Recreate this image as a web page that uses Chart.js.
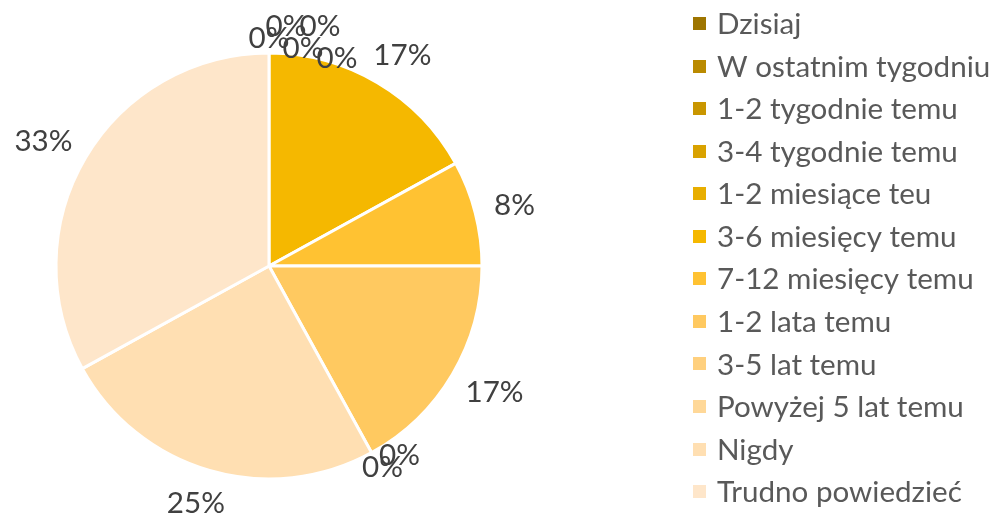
<!DOCTYPE html>
<html><head><meta charset="utf-8">
<script src="https://cdn.jsdelivr.net/npm/chart.js@4"></script>
<style>html,body{margin:0;padding:0;background:#fff;overflow:hidden}#wrap{width:995px;height:520px;position:relative}</style>
</head><body><div id="wrap"><canvas id="c" width="995" height="520"></canvas></div>
<script>
const categories = ['Dzisiaj','W ostatnim tygodniu','1-2 tygodnie temu','3-4 tygodnie temu','1-2 miesiące teu','3-6 miesięcy temu','7-12 miesięcy temu','1-2 lata temu','3-5 lat temu','Powyżej 5 lat temu','Nigdy','Trudno powiedzieć'];
const percentValues = [0,0,0,0,0,17,8,17,0,0,25,33];
const sliceColors = ['#9E7500','#BA8A00','#C99600','#D9A200','#E8AE00','#F5B800','#FFC232','#FFC960','#FFD07E','#FFD898','#FFDFB2','#FEE6CA'];

const FONT_FAMILY = 'Lato, "Open Sans", sans-serif';
const mctx = document.createElement('canvas').getContext('2d');
mctx.font = '100px ' + FONT_FAMILY;
const refW = mctx.measureText('W ostatnim tygodniu').width;
const FS = Math.round(100 * 273 / refW * 10) / 10;

const sideLegend = {
  id: 'sideLegend',
  afterDraw(chart, args, o) {
    const ctx = chart.ctx;
    const colors = chart.data.datasets[0].backgroundColor;
    ctx.save();
    ctx.font = o.fontSize + 'px ' + o.family;
    ctx.textAlign = 'left';
    ctx.textBaseline = 'alphabetic';
    chart.data.labels.forEach((lab, i) => {
      const cy = o.top + i * o.spacing;
      ctx.fillStyle = colors[i];
      ctx.fillRect(o.boxX, Math.round(cy - o.box / 2), o.box, o.box);
      ctx.fillStyle = o.color;
      ctx.fillText(lab, o.textX, cy + o.fontSize * 0.36);
    });
    ctx.restore();
  }
};

const outLabels = {
  id: 'outLabels',
  afterDatasetsDraw(chart, args, o) {
    const meta = chart.getDatasetMeta(0);
    const ds = chart.data.datasets[0].data;
    const ctx = chart.ctx;
    ctx.save();
    ctx.font = o.fontSize + 'px ' + o.family;
    ctx.fillStyle = o.color;
    ctx.textAlign = 'center';
    ctx.textBaseline = 'alphabetic';
    let run = 0;
    meta.data.forEach((arc, i) => {
      const p = arc.getProps(['x','y','startAngle','endAngle','outerRadius'], true);
      const mid = (p.startAngle + p.endAngle) / 2;
      const dx = Math.cos(mid), dy = Math.sin(mid);
      const txt = ds[i] + '%';
      const w = ctx.measureText(txt).width, h = o.fontSize * 0.9;
      const zero = ds[i] === 0;
      run = zero ? ((i > 0 && ds[i-1] === 0) ? run + 1 : 0) : 0;
      const gap = zero ? o.zeroGap : o.gap;
      let cx = p.x + (p.outerRadius + gap) * dx + dx * w / 2;
      let cy = p.y + (p.outerRadius + gap) * dy + dy * h / 2;
      if (zero && run > 0) {
        cx += run * o.stepX;
        cy += (run % 2) ? -o.stepY : run * 5;
      }
      ctx.fillText(txt, cx, cy + o.fontSize * 0.36);
    });
    ctx.restore();
  }
};

new Chart(document.getElementById('c'), {
  type: 'pie',
  data: {
    labels: categories,
    datasets: [{
      data: percentValues,
      backgroundColor: sliceColors,
      borderColor: '#ffffff',
      borderWidth: 3,
      radius: 213,
      hoverOffset: 0
    }]
  },
  options: {
    responsive: false,
    animation: false,
    events: [],
    layout: { padding: { left: 0, right: 457, top: 12, bottom: 0 } },
    plugins: {
      legend: { display: false },
      tooltip: { enabled: false },
      sideLegend: { top: 23.5, spacing: 42.55, box: 13, boxX: 693, textX: 717, fontSize: FS, family: FONT_FAMILY, color: '#595959' },
      outLabels: { gap: 20, zeroGap: 2, stepX: 17, stepY: 12, fontSize: FS, family: FONT_FAMILY, color: '#404040' }
    }
  },
  plugins: [sideLegend, outLabels]
});
</script>
</body></html>
